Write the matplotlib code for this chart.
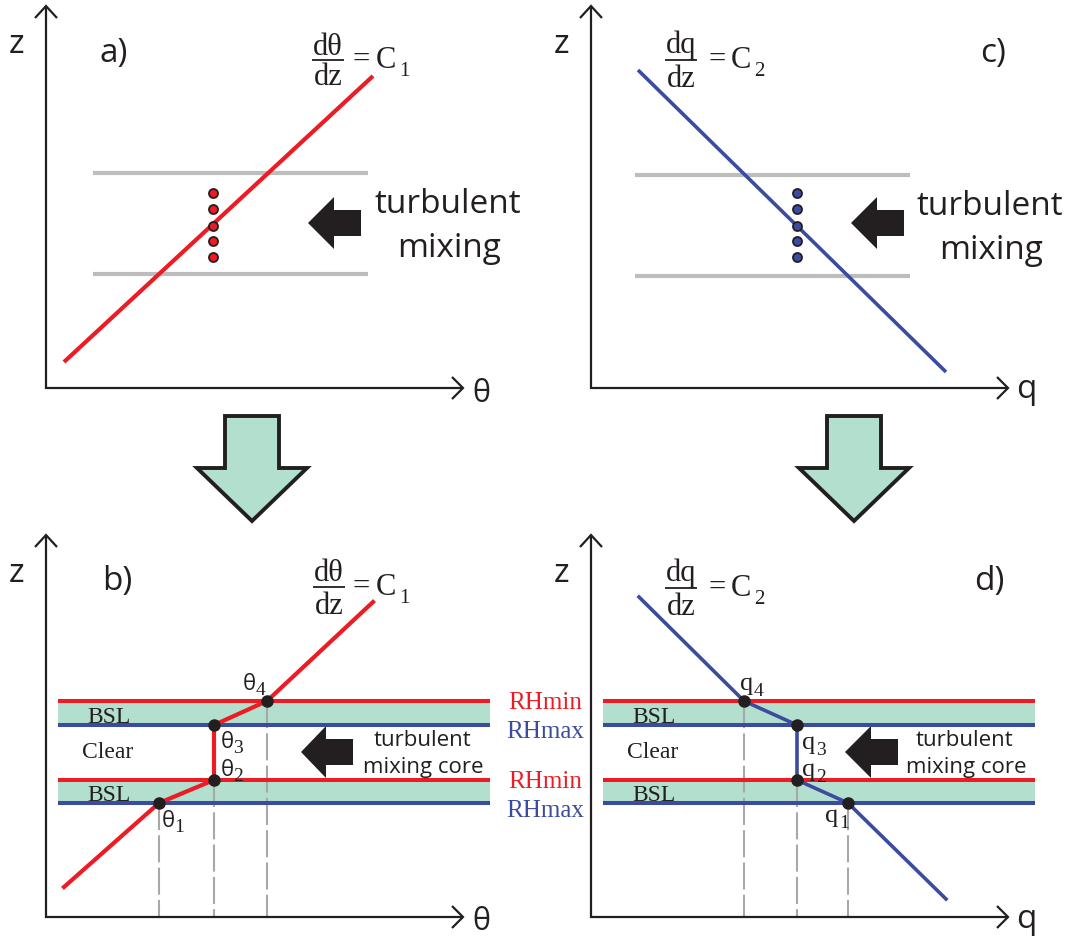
import matplotlib
matplotlib.use("Agg")
import matplotlib.pyplot as plt
from matplotlib.patches import Polygon, Rectangle

# ---------------- schematic values (panel units, origin at the axes corner) ----------------
# undisturbed linear profiles in the top row: end points (coordinate, height)
theta_linear = [18, 327]
theta_linear_z = [26, 312]
q_linear = [47, 355]
q_linear_z = [318, 16]

# heights bounding the turbulent layer in the top row
theta_layer_z = [215, 114]
q_layer_z = [213, 112]

# mixed parcels
parcel_z = [195, 179, 162, 147, 131]
theta_parcel = 167
q_parcel = 206

# bottom row: boundaries of the two saturated layers
rhmin_z = [216, 137]
rhmax_z = [192, 114]
layer_extent = [12, 444]

# bottom row: profiles after mixing (knots 1..4 are the inner points)
theta_mixed = [18, 113, 168, 168, 221, 327]
theta_mixed_z = [30, 114, 137, 192, 216, 315]
theta_knot_names = ["1", "2", "3", "4"]
q_mixed = [48, 153, 206, 206, 257, 355]
q_mixed_z = [320, 216, 192, 137, 114, 18]
q_knot_names = ["4", "3", "2", "1"]

# ---------------- styling ----------------
W, H, DPI = 1068, 937, 100
RED = "#ed1c24"
BLUE = "#3b4c9f"
GREEN = "#b2dfce"
GRAY = "#bdbdbd"
DASH = "#a8a8a8"
INK = "#231f20"
SANS = "Open Sans"
SERIF = "Liberation Serif"

fig = plt.figure(figsize=(W / DPI, H / DPI), dpi=DPI)
fig.patch.set_facecolor("white")


def panel(px0, py0, pw, ph, ox, oy):
    ax = fig.add_axes([px0 / W, 1 - (py0 + ph) / H, pw / W, ph / H])
    ax.set_xlim(px0 - ox, px0 + pw - ox)
    ax.set_ylim(oy - (py0 + ph), oy - py0)
    ax.axis("off")
    return ax


def axis_arrows(ax, xname, xname_z, xname_size, tag, tag_x, tag_z, xlen=417, zlen=382):
    kw = dict(color=INK, lw=1.6, solid_capstyle="butt", solid_joinstyle="miter", clip_on=False)
    ax.plot([0, 0, xlen], [zlen, 0, 0], **kw)
    ax.plot([-11, 0, 11], [zlen - 12, zlen, zlen - 12], **kw)
    ax.plot([xlen - 11, xlen, xlen - 11], [11, 0, -11], **kw)
    ax.text(-29, 336, "z", family=SANS, fontsize=24, color=INK, ha="center", va="baseline")
    ax.text(435, xname_z, xname, family=SANS, fontsize=xname_size, color=INK,
            ha="center", va="baseline")
    ax.text(tag_x, tag_z, tag, family=SANS, fontsize=24, color=INK, ha="center", va="baseline")


def gradient_label(ax, cx, num, sub, eq_x, c_x, sub_x, z_num, z_bar, z_den):
    fs = 22
    ax.text(cx, z_num, num, family=SERIF, fontsize=fs, color=INK, ha="center", va="baseline")
    ax.plot([cx - 16, cx + 16], [z_bar, z_bar], color=INK, lw=1.3, solid_capstyle="butt")
    ax.text(cx, z_den, "dz", family=SERIF, fontsize=fs, color=INK, ha="center", va="baseline")
    ax.text(eq_x, z_bar - 7, "=", family=SERIF, fontsize=fs, color=INK, ha="center", va="baseline")
    ax.text(c_x, z_bar - 7, "C", family=SERIF, fontsize=fs, color=INK, ha="center", va="baseline")
    ax.text(sub_x, z_bar - 15, sub, family=SERIF, fontsize=15, color=INK, ha="center", va="baseline")


def push_arrow(ax, tip, back, end, zc=165):
    pts = [(tip, zc), (back, zc + 26), (back, zc + 13), (end, zc + 13),
           (end, zc - 13), (back, zc - 13), (back, zc - 26)]
    ax.add_patch(Polygon(pts, closed=True, facecolor=INK, edgecolor="none", clip_on=False))


def down_arrow(ax, cx):
    pts = [(cx - 27, -28), (cx + 27, -28), (cx + 27, -80), (cx + 55, -80), (cx, -133),
           (cx - 55, -80), (cx - 27, -80)]
    ax.add_patch(Polygon(pts, closed=True, facecolor=GREEN, edgecolor=INK, lw=2.8,
                         joinstyle="miter", clip_on=False))


def layers(ax):
    for top, bot in zip(rhmin_z, rhmax_z):
        ax.add_patch(Rectangle((layer_extent[0], bot), layer_extent[1] - layer_extent[0],
                               top - bot, facecolor=GREEN, edgecolor="none", clip_on=False))
        ax.plot(layer_extent, [top, top], color=RED, lw=2.9, solid_capstyle="butt", clip_on=False)
        ax.plot(layer_extent, [bot, bot], color=BLUE, lw=2.9, solid_capstyle="butt", clip_on=False)
    ax.text(63, 195, "BSL", family=SERIF, fontsize=17, color=INK, ha="center", va="baseline")
    ax.text(63, 117, "BSL", family=SERIF, fontsize=17, color=INK, ha="center", va="baseline")
    ax.text(62, 160, "Clear", family=SERIF, fontsize=17, color=INK, ha="center", va="baseline")


def drop_lines(ax, xs, zs):
    # one dashed guide per distinct coordinate, starting at its lowest knot
    lowest = {}
    for x, z in zip(xs, zs):
        lowest[x] = min(z, lowest.get(x, z))
    for x, z in lowest.items():
        ax.plot([x, x], [z, 0], color=DASH, lw=1.5, ls=(0, (13, 2.5)), zorder=1)


# ---------------- panel a) ----------------
ax_a = panel(0, 0, 534, 468, 46, 389)
axis_arrows(ax_a, "θ", -13, 22, "a)", 68, 327)
for z in theta_layer_z:
    ax_a.plot([47, 322], [z, z], color=GRAY, lw=3, solid_capstyle="butt")
ax_a.plot(theta_linear, theta_linear_z, color=RED, lw=3, solid_capstyle="butt")
ax_a.plot([theta_parcel] * len(parcel_z), parcel_z, "o", ms=6.5, mfc=RED, mec=INK, mew=1.3,
          ls="none")
gradient_label(ax_a, 282, "dθ", "1", 315, 340, 358, 334, 328, 304)
push_arrow(ax_a, 262, 288, 315)
ax_a.text(402, 176, "turbulent", family=SANS, fontsize=24, color=INK, ha="center", va="baseline")
ax_a.text(403, 132, "mixing", family=SANS, fontsize=24, color=INK, ha="center", va="baseline")
down_arrow(ax_a, 206)

# ---------------- panel c) ----------------
ax_c = panel(534, 0, 534, 468, 591, 389)
axis_arrows(ax_c, "q", -9, 24, "c)", 402, 327)
for z in q_layer_z:
    ax_c.plot([44, 319], [z, z], color=GRAY, lw=3, solid_capstyle="butt")
ax_c.plot(q_linear, q_linear_z, color=BLUE, lw=2.6, solid_capstyle="butt")
ax_c.plot([q_parcel] * len(parcel_z), parcel_z, "o", ms=6.5, mfc=BLUE, mec=INK, mew=1.3,
          ls="none")
gradient_label(ax_c, 90, "dq", "2", 126, 150, 168, 336, 328, 302)
push_arrow(ax_c, 260, 286, 313)
ax_c.text(399, 174, "turbulent", family=SANS, fontsize=24, color=INK, ha="center", va="baseline")
ax_c.text(400, 130, "mixing", family=SANS, fontsize=24, color=INK, ha="center", va="baseline")
down_arrow(ax_c, 263)

# ---------------- panel b) ----------------
ax_b = panel(0, 468, 534, 469, 46, 918)
axis_arrows(ax_b, "θ", -12, 22, "b)", 71, 328)
layers(ax_b)
drop_lines(ax_b, theta_mixed[1:5], theta_mixed_z[1:5])
ax_b.plot(theta_mixed, theta_mixed_z, color=RED, lw=3, solid_joinstyle="miter", zorder=3)
ax_b.plot(theta_mixed[1:5], theta_mixed_z[1:5], "o", ms=8, color=INK, ls="none", zorder=4)
theta_label_shift = [(9, -23), (13, 5), (13, -22), (-18, 12)]
for (x, z), (dx, dz), name in zip(zip(theta_mixed[1:5], theta_mixed_z[1:5]),
                                  theta_label_shift, theta_knot_names):
    ax_b.text(x + dx, z + dz, "θ", family=SANS, fontsize=16, color=INK, ha="center",
              va="baseline", zorder=5)
    ax_b.text(x + dx + 11, z + dz - 5, name, family=SERIF, fontsize=14, color=INK,
              ha="center", va="baseline", zorder=5)
gradient_label(ax_b, 283, "dθ", "1", 315, 340, 358, 337, 330, 304)
push_arrow(ax_b, 255, 280, 307)
ax_b.text(377, 172, "turbulent", family=SANS, fontsize=16, color=INK, ha="center", va="baseline")
ax_b.text(377, 145, "mixing core", family=SANS, fontsize=16, color=INK, ha="center", va="baseline")
rh_labels = [("RHmin", RED, 209), ("RHmax", BLUE, 180), ("RHmin", RED, 130), ("RHmax", BLUE, 101)]
for text, col, z in rh_labels:
    ax_b.text(499, z, text, family=SERIF, fontsize=18, color=col, ha="center", va="baseline",
              clip_on=False)

# ---------------- panel d) ----------------
ax_d = panel(534, 468, 534, 469, 591, 918)
axis_arrows(ax_d, "q", -10, 24, "d)", 398, 328)
layers(ax_d)
drop_lines(ax_d, q_mixed[1:5], q_mixed_z[1:5])
ax_d.plot(q_mixed, q_mixed_z, color=BLUE, lw=2.6, solid_joinstyle="miter", zorder=3)
ax_d.plot(q_mixed[1:5], q_mixed_z[1:5], "o", ms=8, color=INK, ls="none", zorder=4)
q_label_shift = [(3, 12), (12, -23), (12, 5), (-16, -18)]
for (x, z), (dx, dz), name in zip(zip(q_mixed[1:5], q_mixed_z[1:5]),
                                  q_label_shift, q_knot_names):
    ax_d.text(x + dx, z + dz, "q", family=SERIF, fontsize=19, color=INK, ha="center",
              va="baseline", zorder=5)
    ax_d.text(x + dx + 12, z + dz - 6, name, family=SERIF, fontsize=14, color=INK,
              ha="center", va="baseline", zorder=5)
gradient_label(ax_d, 90, "dq", "2", 126, 150, 168, 337, 329, 303)
push_arrow(ax_d, 254, 280, 307)
ax_d.text(374, 172, "turbulent", family=SANS, fontsize=16, color=INK, ha="center", va="baseline")
ax_d.text(375, 145, "mixing core", family=SANS, fontsize=16, color=INK, ha="center", va="baseline")

fig.savefig("out.png", dpi=DPI, facecolor="white")
